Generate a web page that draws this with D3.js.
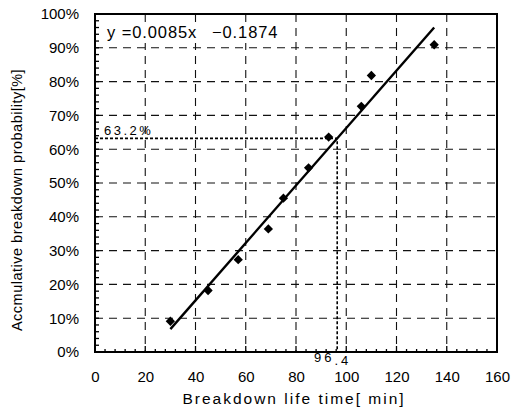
<!DOCTYPE html>
<html><head><meta charset="utf-8">
<script src="https://cdn.jsdelivr.net/npm/d3@7"></script>
<style>body{margin:0;background:#fff}svg{display:block;font-family:"Liberation Sans",Arial,sans-serif}</style>
</head><body><svg id="c" width="513" height="412"></svg>
<script>
const lifeTimes = [30, 45, 57, 69, 75, 85, 93, 106, 110, 135];
const probabilities = [0.091, 0.182, 0.273, 0.364, 0.455, 0.545, 0.636, 0.727, 0.818, 0.909];
const xTicks = [0, 20, 40, 60, 80, 100, 120, 140, 160];
const yTicks = [0, .1, .2, .3, .4, .5, .6, .7, .8, .9, 1];
const slope = 0.0085, intercept = -0.1874;
const fitRange = [30, 135];
const refY = 0.632, refX = 96.4;

const svg = d3.select("#c");
const m = {l: 95, r: 497, t: 14, b: 352};
const x = d3.scaleLinear().domain([0, 160]).range([m.l, m.r]);
const y = d3.scaleLinear().domain([0, 1]).range([m.b, m.t]);

// grid
const g = svg.append("g");
g.selectAll(".gx").data(xTicks.slice(1, -1)).enter().append("line")
  .attr("x1", d => x(d)).attr("x2", d => x(d)).attr("y1", m.t).attr("y2", m.b)
  .attr("stroke", "#111").attr("stroke-width", 1.1).attr("stroke-dasharray", "8,6");
g.selectAll(".gy").data(yTicks.slice(1, -1)).enter().append("line")
  .attr("y1", d => y(d)).attr("y2", d => y(d)).attr("x1", m.l).attr("x2", m.r)
  .attr("stroke", "#111").attr("stroke-width", 1.1).attr("stroke-dasharray", "8,6");

// minor ticks
const xMinor = d3.range(0, 161, 4);
svg.selectAll(".mx").data(xMinor).enter().append("line")
  .attr("x1", d => x(d)).attr("x2", d => x(d)).attr("y1", m.b).attr("y2", d => m.b - (d % 20 === 0 ? 6 : 3))
  .attr("stroke", "#000").attr("stroke-width", 1.3);
const yMinor = d3.range(0, 1.001, 0.02);
svg.selectAll(".my").data(yMinor).enter().append("line")
  .attr("y1", d => y(d)).attr("y2", d => y(d)).attr("x1", m.l).attr("x2", m.l + 4)
  .attr("stroke", "#000").attr("stroke-width", 1.3);

// equation backing
svg.append("rect").attr("x", 104).attr("y", 22).attr("width", 178).attr("height", 21).attr("fill", "#fff");

// frame
svg.append("rect").attr("x", m.l).attr("y", m.t).attr("width", m.r - m.l).attr("height", m.b - m.t)
  .attr("fill", "none").attr("stroke", "#000").attr("stroke-width", 2);

// axes labels via d3 axes
const xAxis = svg.append("g").attr("transform", `translate(0,${m.b})`)
  .call(d3.axisBottom(x).tickValues(xTicks).tickSize(0).tickPadding(19));
xAxis.select(".domain").remove();
xAxis.selectAll("text").attr("font-size", 15).attr("font-family", "Liberation Sans, Arial").attr("fill", "#000");
const yAxis = svg.append("g").attr("transform", `translate(${m.l},0)`)
  .call(d3.axisLeft(y).tickValues(yTicks).tickFormat(d3.format(".0%")).tickSize(0).tickPadding(16));
yAxis.select(".domain").remove();
yAxis.selectAll("text").attr("font-size", 15).attr("font-family", "Liberation Sans, Arial").attr("fill", "#000");

// reference lines
svg.append("path")
  .attr("d", `M${x(0)},${y(refY)}H${x(refX)}V${y(0)}`)
  .attr("fill", "none").attr("stroke", "#000").attr("stroke-width", 1.6).attr("stroke-dasharray", "3,2");

// fit line
svg.append("line")
  .attr("x1", x(fitRange[0])).attr("y1", y(slope * fitRange[0] + intercept))
  .attr("x2", x(fitRange[1])).attr("y2", y(slope * fitRange[1] + intercept))
  .attr("stroke", "#000").attr("stroke-width", 2.4);

// points
svg.selectAll(".pt").data(lifeTimes).enter().append("path")
  .attr("d", d3.symbol().type(d3.symbolDiamond2).size(55))
  .attr("transform", (d, i) => `translate(${x(d)},${y(probabilities[i])})`)
  .attr("fill", "#000");

// annotations
const eq = svg.append("text").attr("x", 107).attr("y", 38).attr("font-size", 16.5).attr("letter-spacing", 0.9);
eq.append("tspan").text("y =0.0085x");
eq.append("tspan").attr("x", 212).text("\u22120.1874");
svg.append("text").attr("x", 104).attr("y", 135).attr("font-size", 13).attr("letter-spacing", 2.5).text("63.2%");
const lbl = svg.append("text").attr("x", 314).attr("y", 362).attr("font-size", 13).attr("letter-spacing", 3);
lbl.append("tspan").text("96");
lbl.append("tspan").attr("dy", 3).text(".4");

// axis titles
svg.append("text").attr("x", 294).attr("y", 404).attr("text-anchor", "middle").attr("font-size", 15.5)
  .attr("letter-spacing", 2).text("Breakdown life time[ min]");
svg.append("text").attr("transform", "translate(22,200) rotate(-90)").attr("text-anchor", "middle")
  .attr("font-size", 14.5).attr("letter-spacing", 0.5).text("Accmulative breakdown probability[%]");
</script></body></html>
